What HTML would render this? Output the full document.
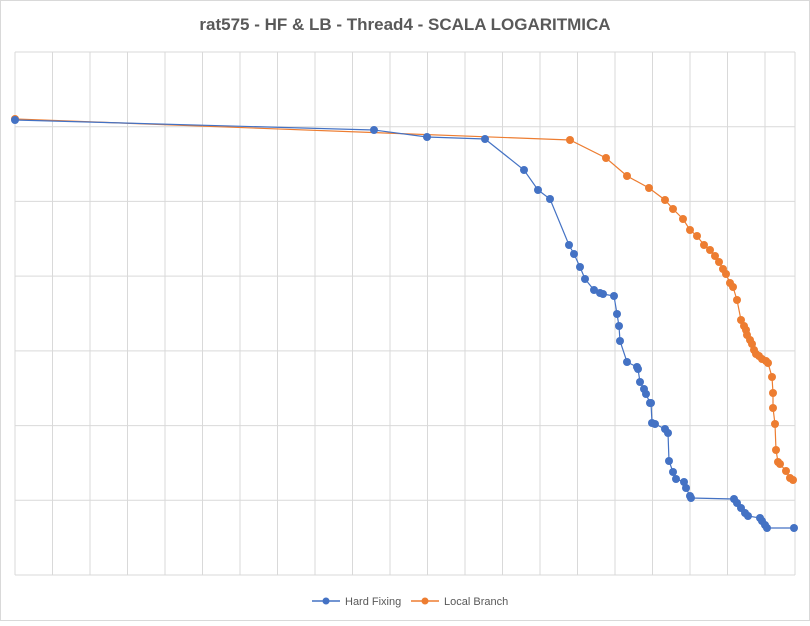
<!DOCTYPE html>
<html><head><meta charset="utf-8"><style>
body{margin:0;background:#fff;}
#wrap{width:810px;height:621px;position:relative;font-family:"Liberation Sans",sans-serif;}
</style></head><body>
<div id="wrap">
<svg id="svg" width="810" height="621" xmlns="http://www.w3.org/2000/svg">
<rect x="0.5" y="0.5" width="809" height="620" fill="#fff" stroke="#d9d9d9"/>
<text x="405" y="30" text-anchor="middle" font-size="17" font-weight="bold" fill="#595959">rat575 - HF &amp; LB - Thread4 - SCALA LOGARITMICA</text>
<g id="grid"></g><g id="series"></g>
<g>
<g>
<line x1="312" y1="601" x2="340" y2="601" stroke="#4472c4" stroke-width="1.5"/><circle cx="326" cy="601" r="3.5" fill="#4472c4"/>
<text x="345" y="605" font-size="11" fill="#595959">Hard Fixing</text></g>
<g>
<line x1="411" y1="601" x2="439" y2="601" stroke="#ed7d31" stroke-width="1.5"/><circle cx="425" cy="601" r="3.5" fill="#ed7d31"/>
<text x="444" y="605" font-size="11" fill="#595959">Local Branch</text></g>
</g>
</svg></div>
<script>
const hfX=[0,359,412,470,509,523,535,554,559,565,570,579,585,588,599,602,604,605,612,622,623,625,629,631,635,636,637,640,650,653,654,658,661,669,671,675,676,719,722,726,730,733,745,747,750,752,779];
const hfY=[455,445,438,436,405,385,376,330,321,308,296,285,282,281,279,261,249,234,213,208,206,193,186,181,172,172,152,151,146,142,114,103,96,93,87,79,77,76,72,67,62,59,57,54,50,47,47];
const lbX=[0,555,591,612,634,650,658,668,675,682,689,695,700,704,708,711,715,718,722,726,729,731,732,735,737,739,741,744,747,751,753,757,758,758,760,761,763,765,771,775,778];
const lbY=[456,435,417,399,387,375,366,356,345,339,330,325,319,313,306,301,292,288,275,255,249,245,240,235,231,225,221,219,216,214,212,198,182,167,151,125,113,111,104,97,95];
const xTickCount=21, yTickCount=7;
const X0=15,X1=795,Y0=575,Y1=52;
const xs=v=>X0+v;            // x domain 0..780
const ys=v=>Y0-v;            // y domain 0..523
const NS="http://www.w3.org/2000/svg";
const grid=document.getElementById('grid'), ser=document.getElementById('series');
function mk(t,a,p){const e=document.createElementNS(NS,t);for(const k in a)e.setAttribute(k,a[k]);p.appendChild(e);return e;}
for(let i=0;i<=yTickCount;i++){const y=Y0-i*(Y0-Y1)/yTickCount;
 const l=mk('line',{x1:X0,x2:X1,y1:y,y2:y,stroke:'#d9d9d9','stroke-width':1},grid);
 
 }
for(let i=0;i<=xTickCount;i++){const x=X0+i*37.5; if(x>X1+1)break;
 const l=mk('line',{x1:x,x2:x,y1:Y1,y2:Y0,stroke:'#d9d9d9','stroke-width':1},grid);
 
 }
mk('line',{x1:X1,x2:X1,y1:Y1,y2:Y0,stroke:'#d9d9d9'},grid);
function draw(X,Y,c,name){
 const g=mk('g',{},ser);
 
 
 const p=mk('polyline',{points:X.map((x,i)=>xs(x)+','+ys(Y[i])).join(' '),fill:'none',stroke:c,'stroke-width':1.2},g);
 
 
 X.forEach((x,i)=>{const d=mk('circle',{cx:xs(x),cy:ys(Y[i]),r:4,fill:c},g);
  
  });
}
draw(lbX,lbY,'#ed7d31','series-local-branch');
draw(hfX,hfY,'#4472c4','series-hard-fixing');
</script>
</body></html>
